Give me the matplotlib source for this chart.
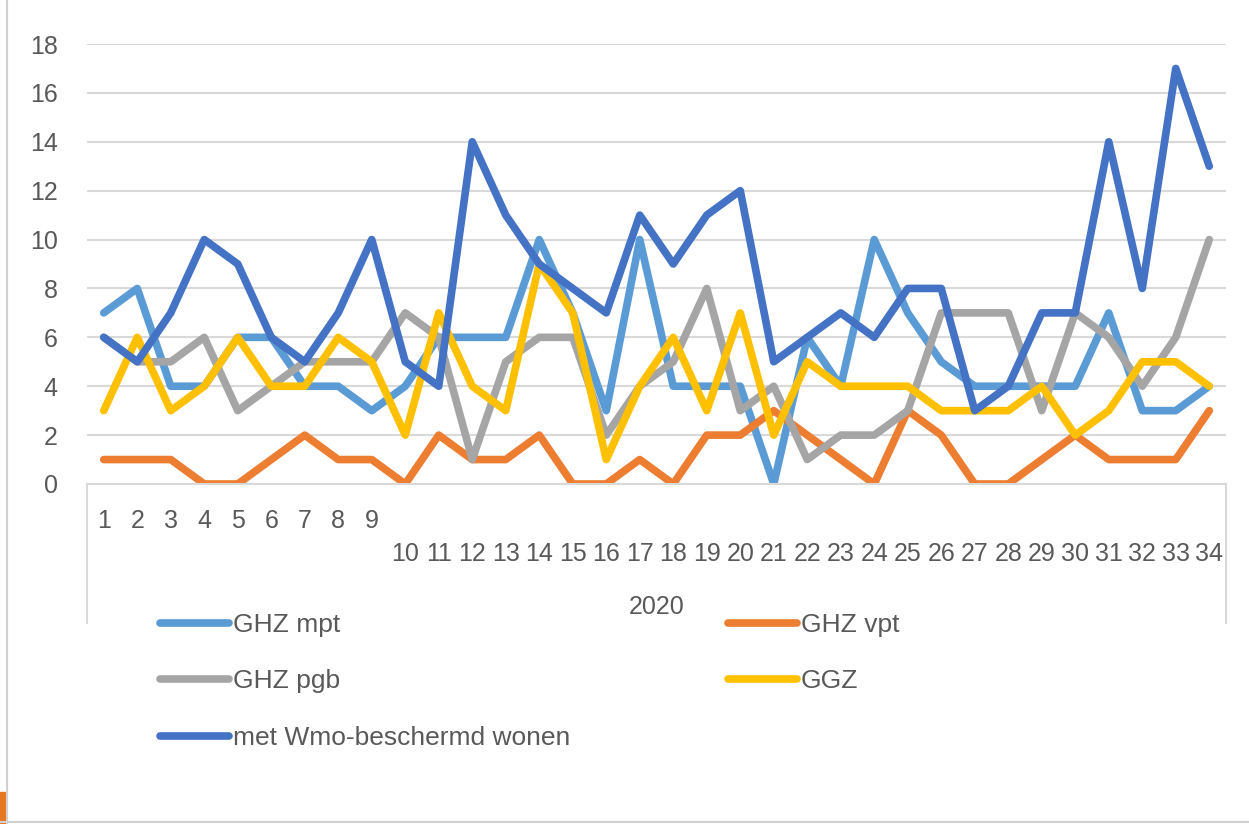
import matplotlib
matplotlib.use("Agg")
import matplotlib.pyplot as plt
from matplotlib.lines import Line2D
from matplotlib.patches import Rectangle

plt.rcParams['font.family'] = ['Liberation Sans', 'DejaVu Sans']

weeks = list(range(1, 35))
year_label = "2020"

ghz_mpt = [7, 8, 4, 4, 6, 6, 4, 4, 3, 4, 6, 6, 6, 10, 7, 3, 10, 4, 4, 4,
           0, 6, 4, 10, 7, 5, 4, 4, 4, 4, 7, 3, 3, 4]
ghz_vpt = [1, 1, 1, 0, 0, 1, 2, 1, 1, 0, 2, 1, 1, 2, 0, 0, 1, 0, 2, 2,
           3, 2, 1, 0, 3, 2, 0, 0, 1, 2, 1, 1, 1, 3]
ghz_pgb = [6, 5, 5, 6, 3, 4, 5, 5, 5, 7, 6, 1, 5, 6, 6, 2, 4, 5, 8, 3,
           4, 1, 2, 2, 3, 7, 7, 7, 3, 7, 6, 4, 6, 10]
ggz = [3, 6, 3, 4, 6, 4, 4, 6, 5, 2, 7, 4, 3, 9, 7, 1, 4, 6, 3, 7,
       2, 5, 4, 4, 4, 3, 3, 3, 4, 2, 3, 5, 5, 4]
wmo = [6, 5, 7, 10, 9, 6, 5, 7, 10, 5, 4, 14, 11, 9, 8, 7, 11, 9, 11, 12,
       5, 6, 7, 6, 8, 8, 3, 4, 7, 7, 14, 8, 17, 13]

names = ["GHZ mpt", "GHZ vpt", "GHZ pgb", "GGZ", "met Wmo-beschermd wonen"]
series = [ghz_mpt, ghz_vpt, ghz_pgb, ggz, wmo]
colors = ["#5B9BD5", "#ED7D31", "#A5A5A5", "#FFC000", "#4472C4"]

W, H = 1249, 824
fig = plt.figure(figsize=(W / 100, H / 100), dpi=100)
left, right, top, bottom = 87, 1226, 44, 484
ax = fig.add_axes([left / W, 1 - bottom / H, (right - left) / W, (bottom - top) / H])

text_col = "#595959"
grid_col = "#D9D9D9"

handles = []
for vals, name, c in zip(series, names, colors):
    h, = ax.plot(weeks, vals, color=c, lw=5.5, label=name,
                 solid_joinstyle='round', solid_capstyle='round')
    handles.append(h)

ax.set_xlim(0.5, 34.5)
ax.set_ylim(0, 18)
ax.set_yticks(range(0, 19, 2))
ax.yaxis.grid(True, color=grid_col, lw=1.5)
ax.set_axisbelow(True)
for s in ['top', 'right', 'left']:
    ax.spines[s].set_visible(False)
ax.spines['bottom'].set_color(grid_col)
ax.spines['bottom'].set_linewidth(1.5)

ax.set_xticks(weeks)
ax.set_xticklabels([str(w) for w in weeks])
ax.tick_params(axis='x', length=0, labelsize=18, labelcolor=text_col, pad=18)
ax.tick_params(axis='y', length=0, labelsize=18, labelcolor=text_col, pad=21)
for t in ax.xaxis.get_major_ticks()[9:]:
    t.set_pad(42)

# category box below the axis
for xp in (left, right):
    fig.add_artist(Line2D([xp / W, xp / W], [1 - bottom / H, 1 - 623 / H],
                          color=grid_col, lw=1.5, transform=fig.transFigure))

fig.text(657 / W, 1 - 607 / H, year_label, ha='center', va='center',
         fontsize=18, color=text_col)

order = [0, 2, 4, 1, 3]
leg = fig.legend([handles[i] for i in order], [names[i] for i in order],
                 loc='upper left', bbox_to_anchor=(160 / W, 1 - 613 / H),
                 ncol=2, frameon=False, fontsize=19, borderpad=0,
                 borderaxespad=0, handlelength=2.6, handletextpad=0.15,
                 columnspacing=6.0, labelspacing=1.23, labelcolor=text_col)

# page frame details
fig.add_artist(Line2D([7 / W, 7 / W], [0, 1], color="#D0D0D0", lw=1.5,
                      transform=fig.transFigure))
fig.add_artist(Line2D([0, 1], [2 / H, 2 / H], color="#D0D0D0", lw=1.5,
                      transform=fig.transFigure))
fig.add_artist(Rectangle((0, 0), 5 / W, 32 / H, color="#E87722",
                         transform=fig.transFigure))

fig.savefig("out.png", dpi=100)
